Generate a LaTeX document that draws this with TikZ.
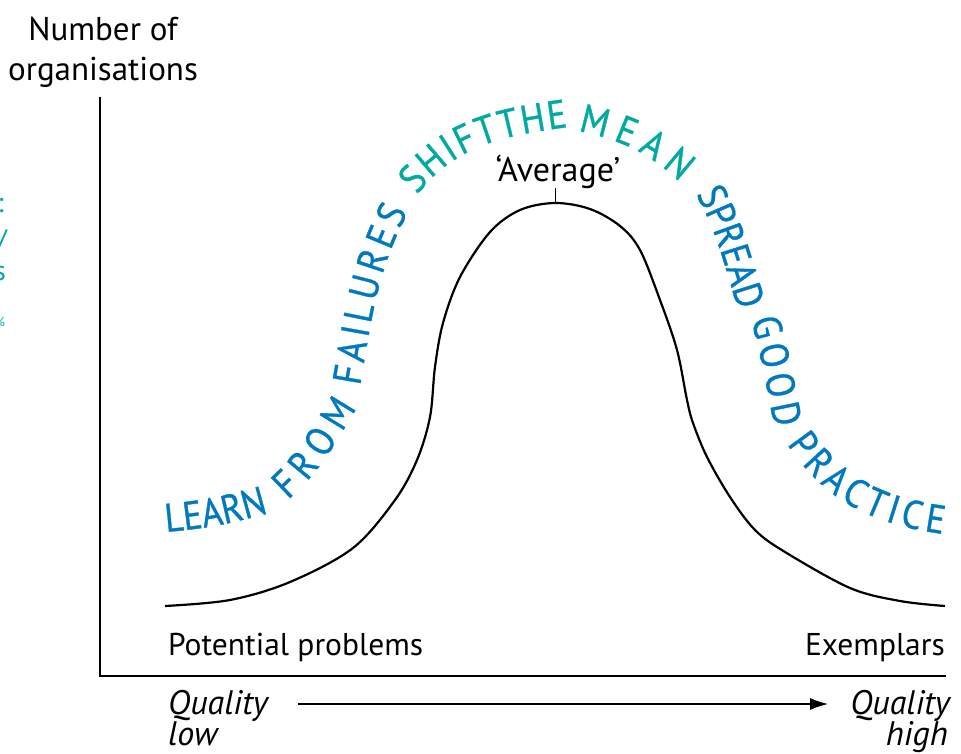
\documentclass[tikz,border=0pt]{standalone}
\usepackage{fontspec}
\setmainfont{PT Sans}
\newfontfamily\arcfont[FakeStretch=0.9,FakeBold=0.8]{PT Sans}
\usetikzlibrary{decorations.text,arrows.meta}
\definecolor{arcblue}{RGB}{0,121,193}
\definecolor{arcteal}{RGB}{0,170,160}
\def\arcsz{\arcfont\fontsize{40}{44}\selectfont}
\begin{document}
\begin{tikzpicture}[x=1pt,y=1pt,
  axis/.style={line width=2.4pt, line join=miter},
  bell/.style={line width=2.2pt},
  lab/.style={font=\fontsize{31.5}{40}\selectfont, inner sep=0pt},
  itlab/.style={font=\fontsize{34}{40}\selectfont\itshape, inner sep=0pt},
  frag/.style={text=arcteal, inner sep=0pt},
  arcb/.style={decoration={text along path, text align=fit to path, text color=arcblue, text={|\arcsz|#1}}, decorate},
  arct/.style={decoration={text along path, text align=fit to path, text color=arcteal, text={|\arcsz|#1}}, decorate},
]
\useasboundingbox (0,0) rectangle (961,-754);
\clip (0,0) rectangle (961,-754);

% clipped fragments at left edge
\node[frag, font=\fontsize{28}{30}\selectfont, anchor=base east] (f1) at (4,-213) {:};
\node[frag, font=\fontsize{28}{30}\selectfont, anchor=base east] (f2) at (7,-250) {/};
\node[frag, font=\fontsize{28}{30}\selectfont, anchor=base east] (f3) at (6,-280) {s};
\node[frag, font=\fontsize{13}{15}\selectfont, anchor=base east] (f4) at (5,-326) {\%};

% axes
\coordinate (ytop) at (100,-97);
\coordinate (origin) at (100,-676);
\coordinate (xend) at (946,-676);
\draw[axis] (ytop) -- (origin) -- (xend);

\node[lab, font=\fontsize{33}{40}\selectfont, align=center] (ylabel) at (103,-52) {Number of\\organisations};

% bell curve
\draw[bell] plot[smooth, tension=0.55] coordinates {
 (165,-606) (230,-600) (290,-582) (353,-548) (395,-500) (417,-460) (430,-417)
 (435,-367) (443,-323) (460,-277) (490,-232) (520,-210) (555,-203) (590,-209)
 (620,-226) (640,-250) (660,-300) (677,-350) (687,-400) (693,-423) (707,-457)
 (730,-497) (755,-530) (785,-552) (850,-588) (900,-601) (945,-606)};

\coordinate (peak) at (555,-203);
\coordinate (ticktop) at (555,-188);
\draw[line width=1pt] (ticktop) -- (peak);
\node[lab, font=\fontsize{34}{40}\selectfont, anchor=base] (avg) at (558,-182) {‘Average’};

% curved texts
\path[arcb=LEARN] (166,-532) to[out=5,in=196] (268,-513);
\path[arcb=FROM] (288,-500) to[out=42,in=238] (357,-408);
\path[arcb=FAILURES] (360,-386) to[out=80,in=243] (408,-212);
\path[arct=SHIFTTHE] (417,-195) to[out=52,in=188] (568,-127);
\path[arct=MEAN] (578,-131) to[out=-12,in=138] (680,-182);
\path[arcb=SPREAD] (696,-194) to[out=-62,in=108] (738,-308);
\path[arcb=GOOD] (751,-320) to[out=-74,in=102] (775,-428);
\path[arcb=PRACTICE] (787,-444) to[out=-56,in=172] (943,-534);

% bottom labels
\node[lab, anchor=base west] (pp) at (168,-655) {Potential problems};
\node[lab, anchor=base east] (ex) at (945,-655) {Exemplars};
\node[itlab, anchor=base west] (ql) at (168,-714) {Quality};
\node[itlab, anchor=base west] (low) at (168,-745) {low};
\node[itlab, anchor=base east] (qh) at (950,-714) {Quality};
\node[itlab, anchor=base east] (high) at (948,-745) {high};

\coordinate (arrS) at (298,-704);
\coordinate (arrE) at (828,-704);
\draw[line width=1.2pt, -{Latex[length=18pt,width=12pt]}] (arrS) -- (arrE);
\end{tikzpicture}
\end{document}
